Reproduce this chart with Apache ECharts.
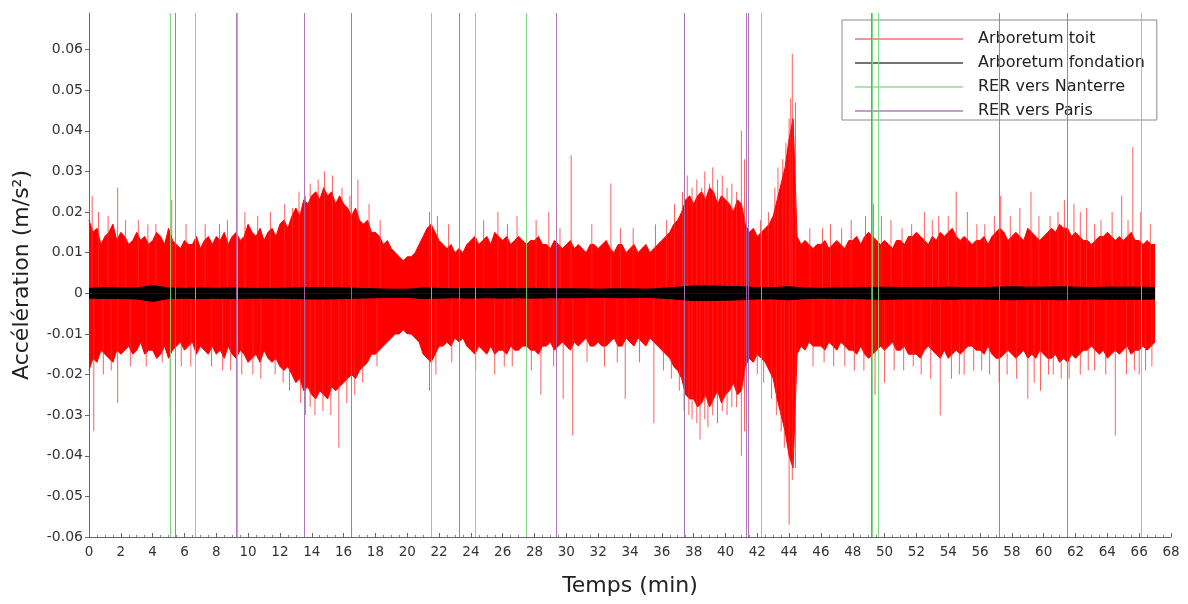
<!DOCTYPE html>
<html>
<head>
<meta charset="utf-8">
<title>Accélérations Arboretum</title>
<script src="https://cdn.jsdelivr.net/npm/echarts@6/dist/echarts.min.js"></script>
<style>
  html, body { margin: 0; padding: 0; background: #fff; }
  #chart { width: 1188px; height: 604px; }
</style>
</head>
<body>
<div id="chart"></div>
<script>
// Pas d'échantillonnage des enveloppes (min)
const PAS = 0.25;

// Enveloppe supérieure du toit, en mm/s², un point tous les PAS à partir de t = 0
const toitHaut = [
  18,15,16,12,14,15,17,13,  15,14,12,13,15,13,14,12,  13,15,14,12,16,13,12,11,  13,12,12,14,11,13,14,12,
  14,13,15,12,14,15,13,14,  17,15,14,16,13,15,16,14,  17,18,16,19,21,19,23,22,  24,25,23,26,24,25,22,24,
  22,21,19,21,18,17,18,15,  15,14,12,13,11,10,9,8,    9,9,10,12,14,16,17,15,    13,12,11,12,10,11,10,12,
  13,14,12,13,14,12,15,14,  13,14,12,13,14,13,12,13,  13,14,12,12,11,13,12,11,  12,13,11,12,11,10,12,12,
  11,12,13,11,10,12,12,10,  11,12,10,11,12,10,11,12,  13,14,15,17,18,20,23,24,  22,24,25,23,26,25,22,24,
  23,22,20,23,22,17,15,16,  14,15,16,17,19,23,27,31,  38,43,14,12,13,12,11,12,  12,13,11,12,13,12,11,13,
  13,14,12,14,15,14,13,12,  13,12,11,13,13,12,14,14,  15,14,13,12,14,13,15,14,  15,16,14,13,14,13,12,13,
  13,14,12,14,15,16,15,13,  14,15,14,13,16,15,14,13,  14,15,16,15,17,16,16,14,  15,14,13,13,12,13,14,14,
  15,14,13,14,13,14,15,13,  13,12,13,12,12
];

// Enveloppe inférieure du toit, en mm/s² (valeurs négatives)
const toitBas = [
  -19,-16,-17,-14,-15,-16,-17,-14,  -15,-14,-13,-15,-14,-12,-15,-14,  -14,-16,-15,-13,-16,-14,-13,-12,  -14,-13,-12,-15,-13,-14,-15,-13,
  -15,-14,-16,-13,-15,-16,-14,-15,  -17,-16,-15,-17,-14,-16,-17,-16,  -18,-19,-18,-20,-22,-21,-24,-23,  -25,-26,-24,-25,-26,-23,-24,-23,
  -22,-21,-20,-21,-19,-18,-17,-15,  -15,-14,-13,-12,-11,-10,-10,-9,   -10,-10,-11,-12,-15,-16,-17,-15,  -13,-13,-12,-13,-11,-12,-11,-13,
  -14,-15,-13,-14,-15,-13,-15,-14,  -14,-15,-13,-14,-14,-13,-13,-14,  -14,-15,-13,-13,-12,-14,-13,-12,  -13,-14,-12,-13,-12,-11,-13,-13,
  -12,-13,-13,-12,-11,-13,-13,-11,  -12,-13,-11,-12,-13,-11,-12,-13,  -14,-15,-16,-18,-19,-21,-25,-26,  -26,-28,-27,-25,-28,-26,-24,-27,
  -25,-24,-22,-25,-24,-18,-16,-17,  -15,-16,-17,-19,-21,-26,-30,-34,  -40,-43,-15,-13,-14,-12,-13,-13,  -13,-14,-12,-13,-14,-12,-13,-14,
  -14,-15,-13,-15,-16,-15,-14,-13,  -14,-13,-12,-14,-14,-13,-15,-15,  -15,-16,-14,-13,-14,-15,-16,-14,  -16,-15,-14,-15,-14,-13,-13,-14,
  -14,-15,-13,-15,-16,-16,-15,-14,  -15,-16,-15,-14,-16,-15,-16,-14,  -15,-16,-16,-15,-17,-16,-17,-15,  -16,-15,-14,-14,-13,-14,-15,-14,
  -16,-15,-14,-15,-14,-13,-15,-14,  -14,-13,-14,-13,-12
];

// Pics isolés du toit : [temps (min), accélération (m/s²)]
const toitPicsHaut = [
  [0.2,0.024],[0.6,0.020],[1.2,0.019],[1.8,0.026],[2.3,0.018],[3.1,0.018],[3.7,0.017],[4.2,0.017],[5.2,0.023],[6.1,0.017],
  [7.3,0.017],[8.2,0.017],[8.7,0.018],[9.8,0.020],[10.6,0.019],[11.4,0.020],[12.3,0.022],[12.8,0.021],[13.2,0.025],[13.6,0.024],
  [13.9,0.027],[14.4,0.028],[14.8,0.030],[15.3,0.029],[15.9,0.026],[16.4,0.024],[16.9,0.028],[17.6,0.022],[18.3,0.018],[21.4,0.020],
  [21.9,0.019],[22.6,0.017],[24.8,0.018],[25.7,0.020],[26.3,0.017],[26.9,0.019],[28.1,0.018],[28.9,0.020],[29.6,0.016],[30.3,0.034],
  [31.6,0.017],[32.8,0.027],[33.4,0.016],[34.2,0.016],[35.6,0.017],[36.3,0.018],[36.8,0.022],[37.3,0.025],[37.6,0.029],[37.9,0.026],
  [38.2,0.028],[38.5,0.026],[38.7,0.030],[39.0,0.027],[39.2,0.031],[39.5,0.028],[39.8,0.029],[40.1,0.026],[40.4,0.027],[40.7,0.025],
  [41.0,0.040],[41.2,0.033],[42.2,0.018],[42.7,0.020],[43.1,0.026],[43.3,0.031],[43.6,0.033],[43.8,0.037],[44.0,0.043],[44.1,0.048],
  [44.2,0.059],[44.4,0.047],[45.3,0.016],[46.1,0.016],[46.6,0.017],[47.3,0.016],[47.9,0.018],[48.8,0.019],[49.3,0.022],[49.8,0.019],
  [50.4,0.018],[51.1,0.016],[51.7,0.017],[52.5,0.020],[53.0,0.018],[53.4,0.019],[54.0,0.019],[54.5,0.025],[55.2,0.020],[55.8,0.017],
  [56.3,0.017],[56.9,0.019],[57.3,0.024],[57.9,0.019],[58.5,0.021],[59.2,0.025],[59.7,0.019],[60.4,0.019],[60.9,0.020],[61.3,0.023],
  [61.9,0.022],[62.3,0.020],[62.7,0.021],[63.2,0.017],[63.6,0.018],[64.3,0.020],[64.9,0.024],[65.3,0.018],[65.6,0.036],[66.1,0.020],
  [66.7,0.017]
];
const toitPicsBas = [
  [0.3,-0.034],[0.9,-0.020],[1.4,-0.019],[1.8,-0.027],[2.6,-0.018],[3.6,-0.018],[4.6,-0.017],[5.1,-0.030],[5.8,-0.018],[6.4,-0.018],
  [7.7,-0.018],[8.4,-0.019],[8.9,-0.019],[9.6,-0.020],[10.3,-0.020],[10.8,-0.021],[11.7,-0.020],[12.2,-0.022],[12.6,-0.024],[13.3,-0.027],
  [13.6,-0.030],[13.9,-0.028],[14.2,-0.030],[14.7,-0.029],[15.2,-0.030],[15.7,-0.038],[16.2,-0.027],[16.7,-0.025],[17.2,-0.022],[18.1,-0.018],
  [21.4,-0.024],[21.8,-0.020],[22.8,-0.017],[24.3,-0.019],[25.5,-0.020],[26.1,-0.018],[26.6,-0.018],[27.8,-0.019],[28.4,-0.025],[29.2,-0.018],
  [29.8,-0.026],[30.4,-0.035],[31.3,-0.017],[32.4,-0.018],[33.2,-0.017],[33.7,-0.026],[34.6,-0.017],[35.5,-0.032],[36.1,-0.019],[36.6,-0.021],
  [37.1,-0.024],[37.4,-0.029],[37.7,-0.030],[37.9,-0.031],[38.2,-0.032],[38.4,-0.036],[38.7,-0.031],[38.9,-0.033],[39.2,-0.030],[39.5,-0.032],
  [39.8,-0.029],[40.1,-0.030],[40.4,-0.028],[40.7,-0.028],[41.0,-0.040],[41.2,-0.034],[42.0,-0.020],[42.4,-0.022],[42.9,-0.026],[43.2,-0.030],
  [43.5,-0.034],[43.7,-0.038],[44.0,-0.057],[44.2,-0.046],[44.4,-0.043],[45.5,-0.018],[46.2,-0.017],[46.8,-0.018],[47.5,-0.018],[48.1,-0.019],
  [48.7,-0.019],[49.4,-0.025],[50.0,-0.022],[50.6,-0.019],[51.2,-0.019],[51.8,-0.018],[52.3,-0.020],[52.9,-0.021],[53.5,-0.030],[54.2,-0.021],
  [54.7,-0.020],[55.0,-0.020],[55.6,-0.019],[56.1,-0.019],[56.6,-0.020],[57.2,-0.022],[57.7,-0.020],[58.3,-0.021],[59.0,-0.026],[59.4,-0.022],
  [59.8,-0.024],[60.3,-0.020],[60.6,-0.020],[61.1,-0.021],[61.6,-0.021],[62.3,-0.020],[62.8,-0.019],[63.2,-0.019],[63.9,-0.020],[64.5,-0.035],
  [65.2,-0.020],[65.7,-0.019],[66.0,-0.020],[66.4,-0.019],[66.8,-0.018]
];

// Enveloppe de la fondation, en mm/s², un point par minute
const fondHaut = [
  1.2,1.4,1.3,1.3,1.9,1.3,1.2,1.3,1.2,1.3, 1.2,1.2,1.2,1.3,1.4,1.4,1.3,1.2,1.1,1.0,
  1.0,1.3,1.2,1.1,1.2,1.1,1.2,1.1,1.2,1.1, 1.1,1.1,1.0,1.1,1.1,1.0,1.2,1.5,1.8,1.8,
  1.7,1.6,1.4,1.4,1.6,1.3,1.2,1.3,1.3,1.4, 1.5,1.4,1.4,1.4,1.5,1.4,1.4,1.5,1.6,1.5,
  1.5,1.6,1.5,1.4,1.5,1.5,1.5,1.4
];
const fondBas = [
  -1.2,-1.3,-1.3,-1.4,-2.0,-1.3,-1.2,-1.3,-1.2,-1.3, -1.2,-1.2,-1.2,-1.3,-1.4,-1.4,-1.3,-1.2,-1.1,-1.0,
  -1.0,-1.3,-1.2,-1.1,-1.2,-1.1,-1.2,-1.1,-1.2,-1.1, -1.1,-1.1,-1.0,-1.1,-1.1,-1.0,-1.2,-1.5,-1.8,-1.8,
  -1.7,-1.6,-1.4,-1.4,-1.6,-1.3,-1.2,-1.3,-1.3,-1.4, -1.5,-1.4,-1.4,-1.4,-1.5,-1.4,-1.4,-1.5,-1.6,-1.5,
  -1.5,-1.6,-1.5,-1.4,-1.5,-1.5,-1.5,-1.4
];

// Heures de passage des trains (min)
const passagesNanterre = [5.1, 6.65, 9.3, 21.5, 24.3, 27.5, 37.42, 42.25, 49.23, 49.6, 66.1];
const passagesParis = [5.45, 9.26, 13.55, 16.5, 23.3, 29.35, 37.38, 41.3, 41.45, 49.19, 57.2, 61.5];

// Graduations
const yGraduations = [-0.06, -0.05, -0.04, -0.03, -0.02, -0.01, 0, 0.01, 0.02, 0.03, 0.04, 0.05, 0.06];
const xGraduations = [0, 2, 4, 6, 8, 10, 12, 14, 16, 18, 20, 22, 24, 26, 28, 30, 32, 34, 36, 38, 40, 42, 44, 46, 48, 50, 52, 54, 56, 58, 60, 62, 64, 66, 68];

const ROUGE = '#ff0000';
const NOIR = '#000000';
const VERT = '#72d872';
const VIOLET = '#a468b0';
const POLICE = 'DejaVu Sans';

// Série échantillonnée (mm/s²) -> points [minute, m/s²]
function serieTemporelle(valeurs, pas) {
  return valeurs.map((v, i) => [i * pas, v / 1000]);
}

// Chaque pic devient un segment vertical partant de zéro
function segmentsPics(pics) {
  const out = [];
  pics.forEach(([t, v]) => { out.push([t, 0], [t, v], [t, null]); });
  return out;
}

function enveloppe(name, data, color, z, largeur) {
  return {
    name, type: 'line', data, z,
    showSymbol: false, symbol: 'none', silent: true,
    lineStyle: { color, width: largeur },
    itemStyle: { color },
    areaStyle: { color, opacity: 1 }
  };
}

function passages(name, temps, color) {
  return {
    name, type: 'line', data: [], z: 6, silent: true,
    itemStyle: { color }, lineStyle: { color },
    markLine: {
      silent: true, symbol: ['none', 'none'], label: { show: false },
      lineStyle: { color, width: 1, type: 'solid', opacity: 0.9 },
      emphasis: { disabled: true },
      data: temps.map(t => ({ xAxis: t }))
    }
  };
}

const chart = echarts.init(document.getElementById('chart'), null, { renderer: 'canvas' });

chart.setOption({
  animation: false,
  backgroundColor: '#ffffff',
  grid: { left: 89, right: 17, top: 13, bottom: 67 },
  legend: {
    left: 842, top: 20,
    orient: 'vertical',
    padding: [11, 12, 1, 13],
    itemGap: 8,
    itemWidth: 108, itemHeight: 1.5,
    borderColor: '#8a8a8a', borderWidth: 1, backgroundColor: '#ffffff',
    selectedMode: false,
    textStyle: { fontFamily: POLICE, fontSize: 16, color: '#222', padding: [0, 0, 0, 10] },
    data: [
      { name: 'Arboretum toit', icon: 'rect', itemStyle: { color: '#f07070' } },
      { name: 'Arboretum fondation', icon: 'rect', itemStyle: { color: '#444444' } },
      { name: 'RER vers Nanterre', icon: 'rect', itemStyle: { color: '#8ede8e' } },
      { name: 'RER vers Paris', icon: 'rect', itemStyle: { color: '#b77ab9' } }
    ]
  },
  xAxis: {
    type: 'value', min: 0, max: 68, interval: 2,
    name: 'Temps (min)', nameLocation: 'middle', nameGap: 38,
    nameTextStyle: { fontFamily: POLICE, fontSize: 22, color: '#222' },
    axisLine: { show: true, onZero: false, lineStyle: { color: '#666', width: 1 } },
    axisTick: { show: true, inside: true, length: 4, lineStyle: { color: '#666' }, customValues: xGraduations },
    minorTick: { show: true, splitNumber: 4, length: 2, lineStyle: { color: '#888' } },
    axisLabel: { fontFamily: POLICE, fontSize: 13.5, color: '#333', margin: 8, customValues: xGraduations },
    splitLine: { show: false }
  },
  yAxis: {
    type: 'value', min: -0.06, max: 0.069,
    name: 'Accélération (m/s²)', nameLocation: 'middle', nameGap: 56, nameRotate: 90,
    nameTextStyle: { fontFamily: POLICE, fontSize: 22, color: '#222' },
    axisLine: { show: true, onZero: false, lineStyle: { color: '#666', width: 1 } },
    axisTick: { show: true, inside: false, length: 4, lineStyle: { color: '#666' }, customValues: yGraduations },
    axisLabel: {
      fontFamily: POLICE, fontSize: 14, color: '#333', margin: 6, customValues: yGraduations,
      formatter: v => (Math.abs(v) < 1e-9 ? '0' : v.toFixed(2))
    },
    splitLine: { show: false }
  },
  series: [
    enveloppe('Arboretum toit', serieTemporelle(toitHaut, PAS), ROUGE, 2, 1),
    enveloppe('Arboretum toit', serieTemporelle(toitBas, PAS), ROUGE, 2, 1),
    {
      name: 'Arboretum toit', type: 'line', z: 3, silent: true,
      showSymbol: false, symbol: 'none', connectNulls: false,
      data: segmentsPics(toitPicsHaut.concat(toitPicsBas)),
      lineStyle: { color: 'rgba(255,40,40,0.75)', width: 1 },
      itemStyle: { color: ROUGE }
    },
    enveloppe('Arboretum fondation', serieTemporelle(fondHaut, 1), NOIR, 4, 1),
    enveloppe('Arboretum fondation', serieTemporelle(fondBas, 1), NOIR, 4, 1),
    passages('RER vers Nanterre', passagesNanterre, VERT),
    passages('RER vers Paris', passagesParis, VIOLET)
  ]
});
</script>
</body>
</html>
